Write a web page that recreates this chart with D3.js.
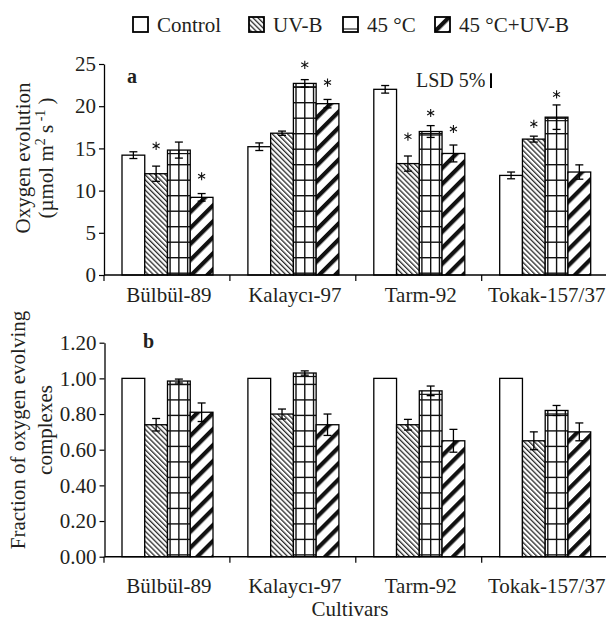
<!DOCTYPE html>
<html>
<head>
<meta charset="utf-8">
<script src="https://cdn.jsdelivr.net/npm/d3@7"></script>
<style>
  html, body { margin: 0; padding: 0; background: #fff; }
  svg { display: block; }
  svg text { font-family: "Liberation Serif", "DejaVu Serif", serif !important; fill: #231f20; }
</style>
</head>
<body>
<script>
// ---------- data ----------
const categories = ["Bülbül-89", "Kalaycı-97", "Tarm-92", "Tokak-157/37"];
const treatments = ["Control", "UV-B", "45 °C", "45 °C+UV-B"];

// panel a: oxygen evolution (µmol m-2 s-1)
const oxyControl = [14.2, 15.2, 22.0, 11.8];
const oxyUVB     = [12.0, 16.8, 13.2, 16.1];
const oxy45      = [14.8, 22.7, 17.0, 18.7];
const oxy45UVB   = [9.2, 20.3, 14.4, 12.2];
const oxyErrControl = [0.4, 0.45, 0.45, 0.4];
const oxyErrUVB     = [0.9, 0.25, 0.9, 0.35];
const oxyErr45      = [0.95, 0.45, 0.7, 1.45];
const oxyErr45UVB   = [0.45, 0.5, 1.0, 0.85];
// significance asterisks (height in data units, null = none)
const starControl = [null, null, null, null];
const starUVB     = [15.3, null, 16.4, 17.9];
const star45      = [null, 24.9, 19.2, 21.4];
const star45UVB   = [11.7, 22.8, 17.3, null];
const oxyTicks = [0, 5, 10, 15, 20, 25];
const lsdValue = 1.75, lsdTop = 23.9;

// panel b: fraction of oxygen evolving complexes
const fracControl = [1.00, 1.00, 1.00, 1.00];
const fracUVB     = [0.74, 0.80, 0.74, 0.65];
const frac45      = [0.985, 1.03, 0.93, 0.82];
const frac45UVB   = [0.81, 0.74, 0.65, 0.70];
const fracErrControl = [0, 0, 0, 0];
const fracErrUVB     = [0.035, 0.028, 0.03, 0.05];
const fracErr45      = [0.011, 0.012, 0.027, 0.028];
const fracErr45UVB   = [0.052, 0.06, 0.064, 0.05];
const fracTicks = [0, 0.2, 0.4, 0.6, 0.8, 1.0, 1.2];

// ---------- drawing ----------
const FONT = "Liberation Serif, DejaVu Serif, serif";
const W = 606, H = 622;
const svg = d3.select("body").append("svg").attr("width", W).attr("height", H)
  .attr("font-family", FONT);
svg.append("rect").attr("width", W).attr("height", H).attr("fill", "#fff");

const defs = svg.append("defs");
// UV-B: thin "\" hatch
const pUV = defs.append("pattern").attr("id", "hUV").attr("patternUnits", "userSpaceOnUse")
  .attr("width", 3.6).attr("height", 3.6).attr("patternTransform", "rotate(-45)");
pUV.append("rect").attr("width", 3.6).attr("height", 3.6).attr("fill", "#fff");
pUV.append("rect").attr("width", 1.3).attr("height", 3.6).attr("fill", "#2a2a2a");
// 45 °C + UV-B: thick "/" hatch
const pHU = defs.append("pattern").attr("id", "hHU").attr("patternUnits", "userSpaceOnUse")
  .attr("width", 11.3).attr("height", 11.3).attr("patternTransform", "rotate(45)");
pHU.append("rect").attr("width", 11.3).attr("height", 11.3).attr("fill", "#fff");
pHU.append("rect").attr("width", 4.2).attr("height", 11.3).attr("fill", "#111");

const fills = ["#fff", "url(#hUV)", "#fff", "url(#hHU)"];
const x0 = d3.scaleBand().domain(categories).range([104, 607.6]).padding(0);
const x1 = d3.scaleBand().domain(treatments).range([18, 109]).padding(0);

function drawPanel(cfg) {
  const g = svg.append("g");
  const y = d3.scaleLinear().domain(cfg.domain).range([cfg.y0, cfg.yTop]);
  const rows = [];
  categories.forEach((c, i) => {
    treatments.forEach((t, j) => {
      rows.push({ c, t, j, v: cfg.values[j][i], e: cfg.errors[j][i],
                  s: cfg.stars ? cfg.stars[j][i] : null });
    });
  });
  const bars = g.selectAll("g.bar").data(rows).join("g").attr("class", "bar");
  bars.append("rect")
    .attr("x", d => x0(d.c) + x1(d.t))
    .attr("y", d => y(d.v))
    .attr("width", x1.bandwidth())
    .attr("height", d => y(0) - y(d.v))
    .attr("fill", d => fills[d.j]);
  // grid for 45 °C
  bars.filter(d => d.j === 2).each(function(d) {
    const gg = d3.select(this);
    const bx = x0(d.c) + x1(d.t), bw = x1.bandwidth();
    const top = y(d.v), bot = y(0);
    [2.6, bw / 2, bw - 2.6].forEach(o => {
      gg.append("line").attr("x1", bx + o).attr("x2", bx + o)
        .attr("y1", top).attr("y2", bot).attr("stroke", "#111").attr("stroke-width", 1.4);
    });
    for (let yy = bot - 1.8; yy > top; yy -= 15.5) {
      gg.append("line").attr("x1", bx).attr("x2", bx + bw)
        .attr("y1", yy).attr("y2", yy).attr("stroke", "#111").attr("stroke-width", 1.4);
    }
    gg.append("line").attr("x1", bx).attr("x2", bx + bw)
      .attr("y1", top + 3.5).attr("y2", top + 3.5).attr("stroke", "#111").attr("stroke-width", 1.2);
  });
  bars.append("rect")
    .attr("x", d => x0(d.c) + x1(d.t))
    .attr("y", d => y(d.v))
    .attr("width", x1.bandwidth())
    .attr("height", d => y(0) - y(d.v))
    .attr("fill", "none").attr("stroke", "#000").attr("stroke-width", 1.3);

  // error bars
  const eb = rows.filter(d => d.e > 0);
  const cx = d => x0(d.c) + x1(d.t) + x1.bandwidth() / 2;
  g.selectAll("line.err").data(eb).join("line")
    .attr("x1", cx).attr("x2", cx)
    .attr("y1", d => y(d.v - d.e)).attr("y2", d => y(d.v + d.e))
    .attr("stroke", "#000").attr("stroke-width", 1.3);
  g.selectAll("line.capT").data(eb).join("line")
    .attr("x1", d => cx(d) - 4).attr("x2", d => cx(d) + 4)
    .attr("y1", d => y(d.v + d.e)).attr("y2", d => y(d.v + d.e))
    .attr("stroke", "#000").attr("stroke-width", 1.3);
  g.selectAll("line.capB").data(eb).join("line")
    .attr("x1", d => cx(d) - 4).attr("x2", d => cx(d) + 4)
    .attr("y1", d => y(d.v - d.e)).attr("y2", d => y(d.v - d.e))
    .attr("stroke", "#000").attr("stroke-width", 1.3);

  // asterisks
  const st = rows.filter(d => d.s != null);
  g.selectAll("path.star").data(st).join("path")
    .attr("d", d3.symbol(d3.symbolAsterisk, 46))
    .attr("transform", d => `translate(${cx(d)},${y(d.s)})`)
    .attr("fill", "none").attr("stroke", "#111").attr("stroke-width", 1.1);

  // y axis
  const ya = g.append("g").attr("transform", `translate(${cfg.axisX},0)`)
    .call(d3.axisLeft(y).tickValues(cfg.ticks).tickFormat(cfg.fmt).tickSize(5).tickSizeOuter(0).tickPadding(3));
  ya.attr("font-family", FONT).attr("font-size", 21);
  ya.select(".domain").attr("stroke", "#000").attr("stroke-width", 1.3);
  ya.selectAll(".tick line").attr("stroke", "#000").attr("stroke-width", 1.2);
  ya.selectAll(".tick text").attr("fill", "#231f20");

  // x axis
  g.append("line").attr("x1", cfg.axisX).attr("x2", W).attr("y1", y(0)).attr("y2", y(0))
    .attr("stroke", "#000").attr("stroke-width", 1.5);
  g.selectAll("line.xt").data(categories).join("line")
    .attr("x1", d => x0(d)).attr("x2", d => x0(d))
    .attr("y1", y(0)).attr("y2", y(0) + 6)
    .attr("stroke", "#000").attr("stroke-width", 1.2);
  g.selectAll("text.xl").data(categories).join("text")
    .attr("x", d => x0(d) + x0.bandwidth() / 2 + 2)
    .attr("y", cfg.labelY)
    .attr("text-anchor", "middle").attr("font-size", 21)
    .text(d => d);

  // y title
  cfg.title(g);

  // panel letter
  g.append("text").attr("x", cfg.letterX).attr("y", cfg.letterY)
    .attr("font-size", 20).attr("font-weight", "bold").text(cfg.letter);
  return { g, y };
}

function rotText(g, x, y) {
  return g.append("text").attr("transform", `translate(${x},${y}) rotate(-90)`)
    .attr("text-anchor", "middle").attr("font-size", 21);
}

const pa = drawPanel({
  domain: [0, 25], y0: 275, yTop: 64, axisX: 104,
  values: [oxyControl, oxyUVB, oxy45, oxy45UVB],
  errors: [oxyErrControl, oxyErrUVB, oxyErr45, oxyErr45UVB],
  stars: [starControl, starUVB, star45, star45UVB],
  ticks: oxyTicks, fmt: d3.format("d"),
  labelY: 302,
  title: g => {
    rotText(g, 30, 158).text("Oxygen evolution");
    const t = rotText(g, 53, 158);
    t.append("tspan").text("(µmol m");
    t.append("tspan").attr("font-size", 14).attr("dy", -8).text("2");
    t.append("tspan").attr("dy", 8).text(" s");
    t.append("tspan").attr("font-size", 14).attr("dy", -8).text(" -1");
    t.append("tspan").attr("dy", 8).text(" )");
  },
  letter: "a", letterX: 127, letterY: 83
});

// LSD marker
svg.append("text").attr("x", 416).attr("y", 87).attr("font-size", 20).text("LSD 5%");
svg.append("line").attr("x1", 491).attr("x2", 491)
  .attr("y1", pa.y(lsdTop)).attr("y2", pa.y(lsdTop - lsdValue))
  .attr("stroke", "#000").attr("stroke-width", 2);

drawPanel({
  domain: [0, 1.2], y0: 556.7, yTop: 342.7, axisX: 104.5,
  values: [fracControl, fracUVB, frac45, frac45UVB],
  errors: [fracErrControl, fracErrUVB, fracErr45, fracErr45UVB],
  stars: null,
  ticks: fracTicks, fmt: d3.format(".2f"),
  labelY: 593,
  title: g => {
    rotText(g, 25, 430).text("Fraction of oxygen evolving");
    rotText(g, 52, 430).text("complexes");
  },
  letter: "b", letterX: 143, letterY: 348
});

svg.append("text").attr("x", 350).attr("y", 616).attr("text-anchor", "middle")
  .attr("font-size", 21).text("Cultivars");

// legend
const legX = [133, 249, 343, 435];
const leg = svg.append("g");
treatments.forEach((t, j) => {
  const lx = legX[j], ly = 17, s = 15;
  const lg = leg.append("g");
  lg.append("rect").attr("x", lx).attr("y", ly).attr("width", s).attr("height", s)
    .attr("fill", fills[j]);
  if (j === 2) {
    lg.append("line").attr("x1", lx).attr("x2", lx + s).attr("y1", ly + s - 3).attr("y2", ly + s - 3)
      .attr("stroke", "#555").attr("stroke-width", 1.5);
  }
  lg.append("rect").attr("x", lx).attr("y", ly).attr("width", s).attr("height", s)
    .attr("fill", "none").attr("stroke", "#000").attr("stroke-width", 1.8);
  lg.append("text").attr("x", lx + 24).attr("y", ly + 15).attr("font-size", 21).text(t);
});
</script>
</body>
</html>
